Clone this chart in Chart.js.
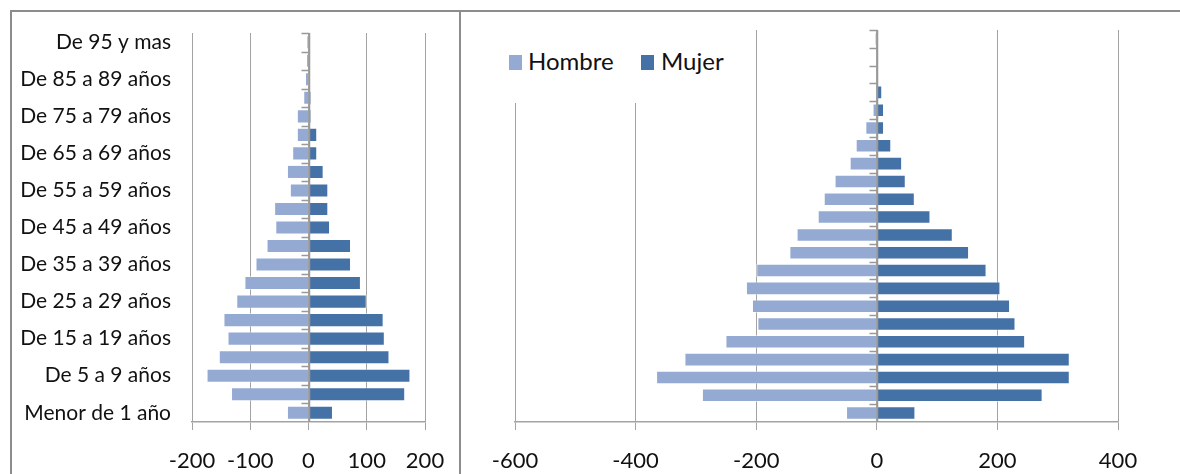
<!DOCTYPE html>
<html>
<head>
<meta charset="utf-8">
<script src="https://cdn.jsdelivr.net/npm/chart.js@4.4.1/dist/chart.umd.min.js"></script>
<style>
  body { margin: 0; background: #fff; width: 1180px; height: 474px; overflow: hidden; position: relative; font-family: Lato, sans-serif; }
  .frame { position: absolute; top: 10px; height: 480px; border: 2px solid #8c8c8c; box-sizing: border-box; }
  #frameLeft { left: 10px; width: 451px; }
  #frameRight { left: 459px; width: 740px; }
  canvas { position: absolute; top: 12px; }
  #leftChart { left: 12px; }
  #rightChart { left: 461px; }
  #legend { position: absolute; left: 497px; top: 26px; width: 248px; height: 77px; background: #fff; }
  .sq { position: absolute; top: 29px; width: 13px; height: 15px; }
  .lbl { position: absolute; top: 20px; font-size: 24px; line-height: 30px; color: #111; }
</style>
</head>
<body>
<div class="frame" id="frameLeft"></div>
<div class="frame" id="frameRight"></div>
<canvas id="leftChart" width="446" height="462"></canvas>
<canvas id="rightChart" width="719" height="462"></canvas>
<div id="legend">
  <div class="sq" style="left:12px;background:#95aad3"></div><div class="lbl" style="left:31px">Hombre</div>
  <div class="sq" style="left:144px;background:#4472a7"></div><div class="lbl" style="left:164px">Mujer</div>
</div>
<script>
// grupos de edad (de abajo hacia arriba)
const ageGroups = ['Menor de 1 año', 'De 1 a 4 años', 'De 5 a 9 años', 'De 10 a 14 años', 'De 15 a 19 años',
  'De 20 a 24 años', 'De 25 a 29 años', 'De 30 a 34 años', 'De 35 a 39 años', 'De 40 a 44 años',
  'De 45 a 49 años', 'De 50 a 54 años', 'De 55 a 59 años', 'De 60 a 64 años', 'De 65 a 69 años',
  'De 70 a 74 años', 'De 75 a 79 años', 'De 80 a 84 años', 'De 85 a 89 años', 'De 90 a 94 años', 'De 95 y mas'];
const rightGroups = ageGroups.slice(0, 20).concat(['De 95 a 99 años', 'De 100 y mas']);

const leftHombre = [-37, -133, -175, -154, -139, -146, -124, -110, -91, -72, -57, -59, -32, -37, -28, -20, -20, -9, -6, -4, -3];
const leftMujer = [42, 166, 175, 139, 131, 129, 100, 90, 73, 73, 37, 34, 34, 26, 15, 15, 5, 5, 1, 1, 0];

const rightHombre = [-51, -290, -366, -319, -251, -198, -207, -217, -200, -145, -133, -98, -88, -70, -45, -35, -19, -7, -2, 0, 0, -3];
const rightMujer = [64, 275, 320, 320, 246, 230, 221, 205, 182, 153, 126, 89, 63, 48, 42, 24, 12, 12, 9, 3, 0, 0];

const leftTicks = [-200, -100, 0, 100, 200];
const rightTicks = [-600, -400, -200, 0, 200, 400];

const HOMBRE = '#95aad3';
const MUJER = '#4472a7';
const GRID = '#a3a3a3';
const FONT = 'Lato, sans-serif';

// eje vertical en cero con marcas entre categorías
const zeroAxis = {
    id: 'zeroAxis',
    afterDatasetsDraw(chart) {
        const { ctx, chartArea, scales } = chart;
        const x0 = Math.round(scales.x.getPixelForValue(0)) + 0.5;
        const n = chart.data.labels.length;
        const step = (chartArea.bottom - chartArea.top) / n;
        ctx.save();
        ctx.strokeStyle = '#999';
        ctx.lineWidth = 1.5;
        ctx.beginPath();
        ctx.moveTo(x0, chartArea.top);
        ctx.lineTo(x0, chartArea.bottom);
        for (let i = 0; i < n; i++) {
            const y = Math.round(scales.y.getPixelForValue(i) - step / 2) + 0.5;
            ctx.moveTo(x0 - 8, y);
            ctx.lineTo(x0, y);
        }
        ctx.stroke();
        ctx.restore();
    }
};

function pyramid(id, labels, hombre, mujer, ticks, pad, showLabels) {
    new Chart(document.getElementById(id), {
        type: 'bar',
        data: {
            labels: labels,
            datasets: [
                { label: 'Hombre', data: hombre, backgroundColor: HOMBRE, borderColor: 'rgba(255,255,255,0.55)', borderWidth: 1 },
                { label: 'Mujer', data: mujer, backgroundColor: MUJER, borderColor: 'rgba(255,255,255,0.55)', borderWidth: 1 }
            ]
        },
        options: {
            indexAxis: 'y',
            responsive: false,
            animation: false,
            layout: { padding: pad },
            datasets: { bar: { categoryPercentage: 0.76, barPercentage: 1 } },
            plugins: { legend: { display: false }, tooltip: { enabled: false } },
            scales: {
                x: {
                    stacked: true,
                    min: ticks[0],
                    max: ticks[ticks.length - 1],
                    afterBuildTicks: s => { s.ticks = ticks.map(v => ({ value: v })); },
                    afterFit: s => {
                        s.height = 52;
                        s.paddingLeft = 0;
                        s.paddingRight = 0;
                    },
                    grid: { color: GRID, lineWidth: 1, tickLength: 8, tickColor: GRID },
                    border: { color: GRID, width: 1.5 },
                    ticks: { color: '#111', padding: 18, maxRotation: 0, font: { family: FONT, size: 22 } }
                },
                y: {
                    stacked: true,
                    reverse: true,
                    display: showLabels,
                    afterFit: s => {
                        if (showLabels) s.width = 180;
                        s.paddingTop = 0;
                        s.paddingBottom = 0;
                    },
                    grid: { display: false, drawTicks: false },
                    border: { display: false },
                    ticks: {
                        autoSkip: false,
                        padding: 21,
                        color: '#111',
                        font: { family: FONT, size: 21 },
                        callback: (v, i) => i % 2 === 0 ? labels[i] : ''
                    }
                }
            }
        },
        plugins: [zeroAxis]
    });
}

pyramid('leftChart', ageGroups, leftHombre, leftMujer, leftTicks, { top: 21, right: 33, left: 0, bottom: 0 }, true);
pyramid('rightChart', rightGroups, rightHombre, rightMujer, rightTicks, { top: 18, right: 62, left: 54, bottom: 0 }, false);
</script>
</body>
</html>
